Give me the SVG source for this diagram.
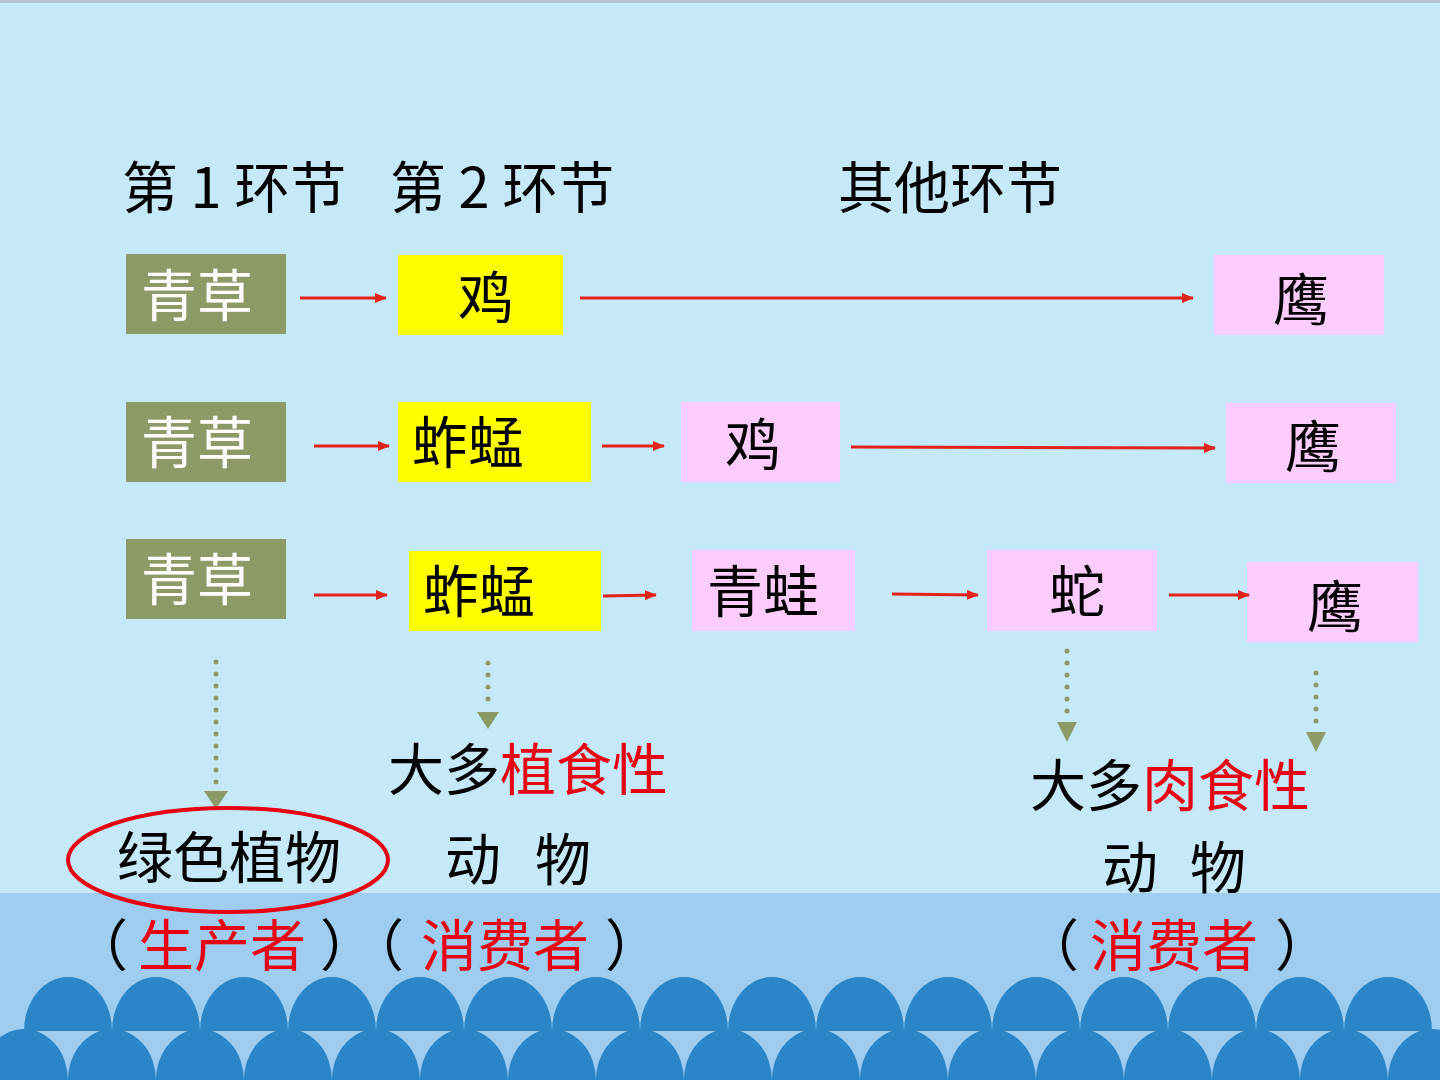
<svg xmlns="http://www.w3.org/2000/svg" width="1440" height="1080" viewBox="0 0 1440 1080">
<defs>
<style>
text{font-family:"Noto Sans CJK SC","Liberation Sans",sans-serif;font-size:56px;fill:#000}
.w{fill:#fff}
.r{fill:#e60012}
.g{fill:#8c9a65}
.y{fill:#ffff00}
.p{fill:#ffccff}
.ar{stroke:#e2231a;stroke-width:3;fill:none}
.dot{stroke:#8c9a65;stroke-width:5;stroke-linecap:round;stroke-dasharray:0 12;fill:none}
.tri{fill:#8c9a65}
.wave{fill:#2b86c9}
</style>
<marker id="ah" markerWidth="12" markerHeight="10" refX="11" refY="5" orient="auto" markerUnits="userSpaceOnUse">
<path d="M0,0 L12,5 L0,10 Z" fill="#e2231a"/>
</marker>
</defs>
<rect x="0" y="0" width="1440" height="1080" fill="#c6e9fa"/>
<rect x="0" y="0" width="1440" height="3" fill="#b5c4cf"/>
<rect x="0" y="893" width="1440" height="187" fill="#9fcdf0"/>
<g id="waves">
<g class="wave">
<ellipse id="low" cx="24" cy="1080" rx="44" ry="51"/>
<use href="#low" x="88"/><use href="#low" x="176"/><use href="#low" x="264"/><use href="#low" x="352"/><use href="#low" x="440"/><use href="#low" x="528"/><use href="#low" x="616"/><use href="#low" x="704"/><use href="#low" x="792"/><use href="#low" x="880"/><use href="#low" x="968"/><use href="#low" x="1056"/><use href="#low" x="1144"/><use href="#low" x="1232"/><use href="#low" x="1320"/><use href="#low" x="1408"/>
</g>
<g class="wave">
<path id="dome" d="M24,1031 A44,54 0 0 1 112,1031 Z"/>
<use href="#dome" x="88"/><use href="#dome" x="176"/><use href="#dome" x="264"/><use href="#dome" x="352"/><use href="#dome" x="440"/><use href="#dome" x="528"/><use href="#dome" x="616"/><use href="#dome" x="704"/><use href="#dome" x="792"/><use href="#dome" x="880"/><use href="#dome" x="968"/><use href="#dome" x="1056"/><use href="#dome" x="1144"/><use href="#dome" x="1232"/><use href="#dome" x="1320"/>
</g>
</g>
<g id="headers">
<text x="122" y="208" xml:space="preserve">第 1 环节</text>
<text x="390" y="208" xml:space="preserve">第 2 环节</text>
<text x="838" y="208">其他环节</text>
</g>
<g id="n1a"><rect class="g" x="126" y="254" width="160" height="80"/><text class="w" x="197" y="316" text-anchor="middle">青草</text></g>
<g id="n1b"><rect class="y" x="398" y="255" width="165" height="80"/><text x="486" y="318" text-anchor="middle">鸡</text></g>
<g id="n1c"><rect class="p" x="1214" y="255" width="170" height="80"/><text x="1301" y="320" text-anchor="middle">鹰</text></g>
<g id="n2a"><rect class="g" x="126" y="402" width="160" height="80"/><text class="w" x="197" y="463" text-anchor="middle">青草</text></g>
<g id="n2b"><rect class="y" x="398" y="402" width="193" height="80"/><text x="412" y="463">蚱蜢</text></g>
<g id="n2c"><rect class="p" x="681" y="402" width="159" height="80"/><text x="753" y="465" text-anchor="middle">鸡</text></g>
<g id="n2d"><rect class="p" x="1226" y="403" width="170" height="80"/><text x="1313" y="467" text-anchor="middle">鹰</text></g>
<g id="n3a"><rect class="g" x="126" y="539" width="160" height="80"/><text class="w" x="197" y="600" text-anchor="middle">青草</text></g>
<g id="n3b"><rect class="y" x="409" y="551" width="192" height="80"/><text x="423" y="612">蚱蜢</text></g>
<g id="n3c"><rect class="p" x="692" y="550" width="163" height="81"/><text x="707" y="612">青蛙</text></g>
<g id="n3d"><rect class="p" x="987" y="550" width="170" height="81"/><text x="1077" y="612" text-anchor="middle">蛇</text></g>
<g id="n3e"><rect class="p" x="1247" y="562" width="171" height="80"/><text x="1335" y="627" text-anchor="middle">鹰</text></g>
<g id="connectors">
<line class="ar" x1="300" y1="298" x2="386" y2="298" marker-end="url(#ah)"/>
<line class="ar" x1="580" y1="298" x2="1193" y2="298" marker-end="url(#ah)"/>
<line class="ar" x1="314" y1="446" x2="389" y2="446" marker-end="url(#ah)"/>
<line class="ar" x1="602" y1="446" x2="664" y2="446" marker-end="url(#ah)"/>
<line class="ar" x1="851" y1="447" x2="1215" y2="448" marker-end="url(#ah)"/>
<line class="ar" x1="314" y1="595" x2="387" y2="595" marker-end="url(#ah)"/>
<line class="ar" x1="603" y1="596" x2="656" y2="595" marker-end="url(#ah)"/>
<line class="ar" x1="892" y1="594" x2="978" y2="595" marker-end="url(#ah)"/>
<line class="ar" x1="1169" y1="595" x2="1249" y2="595" marker-end="url(#ah)"/>
<line class="dot" x1="216" y1="662" x2="216" y2="786"/>
<path class="tri" d="M204,791 L228,791 L216,809 Z"/>
<line class="dot" x1="488" y1="663" x2="488" y2="711"/>
<path class="tri" d="M477,712 L499,712 L488,729 Z"/>
<line class="dot" x1="1067" y1="651" x2="1067" y2="712"/>
<path class="tri" d="M1057,722 L1077,722 L1067,742 Z"/>
<line class="dot" x1="1316" y1="673" x2="1316" y2="722"/>
<path class="tri" d="M1306,732 L1326,732 L1316,752 Z"/>
</g>
<g id="labels">
<text x="388" y="790">大多<tspan class="r">植食性</tspan></text>
<text x="445" y="880">动</text><text x="535" y="880">物</text>
<ellipse cx="228" cy="860" rx="160" ry="52" fill="none" stroke="#e60012" stroke-width="4"/>
<text x="117" y="878">绿色植物</text>
<text y="966"><tspan x="72">（</tspan><tspan class="r" x="138">生产者</tspan><tspan x="320">）（</tspan><tspan class="r" x="421">消费者</tspan><tspan x="605">）</tspan></text>
<text x="1030" y="806">大多<tspan class="r">肉食性</tspan></text>
<text x="1102" y="888">动</text><text x="1190" y="888">物</text>
<text x="1023" y="966">（</text><text class="r" x="1090" y="966">消费者</text><text x="1275" y="966">）</text>
</g>
</svg>
